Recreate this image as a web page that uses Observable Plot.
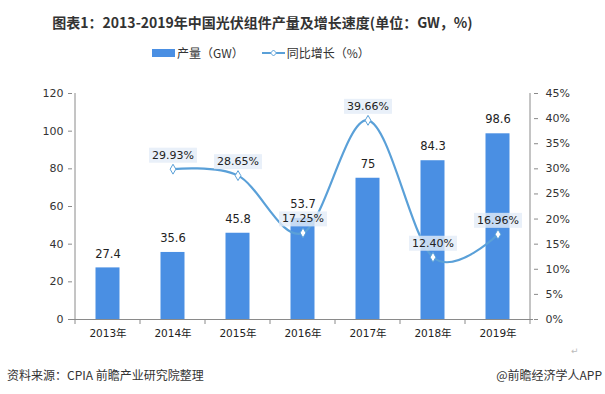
<!DOCTYPE html>
<html><head><meta charset="utf-8">
<script src="https://cdn.jsdelivr.net/npm/d3@7"></script>
<script src="https://cdn.jsdelivr.net/npm/@observablehq/plot@0.6"></script>
<style>
body{margin:0;background:#fff;width:605px;height:394px;position:relative;overflow:hidden;font-family:"Noto Sans CJK SC","DejaVu Sans",sans-serif;color:#333;}
#title{position:absolute;left:0px;top:11px;width:525px;text-align:center;font-weight:bold;font-size:14px;line-height:22px;color:#333;white-space:nowrap;}
#legend{position:absolute;top:44px;left:152px;font-size:12px;line-height:18px;color:#333;white-space:nowrap;display:flex;align-items:center;}
#legend .sw{display:inline-block;width:23px;height:8px;background:#4a8fe3;margin-right:2px;}
#legend svg{margin-left:18px;margin-right:2px;}
#chart{position:absolute;left:0;top:75px;width:605px;height:270px;}
#chart svg{position:absolute;left:0;top:0;}
#src{position:absolute;left:7px;top:366px;font-size:12px;line-height:18px;color:#333;white-space:nowrap;}
#app{position:absolute;right:3px;top:366px;font-size:12px;line-height:18px;color:#333;white-space:nowrap;}
#mark{position:absolute;left:571px;top:344px;font-size:9px;color:#bbb;}
</style></head>
<body>
<div id="title">图表1：2013-2019年中国光伏组件产量及增长速度(单位：GW，%)</div>
<div id="legend"><span class="sw"></span><span>产量（GW）</span><svg width="23" height="10"><line x1="0" y1="5" x2="23" y2="5" stroke="#5aa0d8" stroke-width="2"/><path d="M11.5 2 L14.5 5 L11.5 8 L8.5 5 Z" fill="#fff" stroke="#5aa0d8"/></svg><span>同比增长（%）</span></div>
<div id="chart"></div>
<div id="src">资料来源：CPIA 前瞻产业研究院整理</div>
<div id="app">@前瞻经济学人APP</div>
<div id="mark">↵</div>
<script>
const years = ["2013年","2014年","2015年","2016年","2017年","2018年","2019年"];
const output = [27.4,35.6,45.8,53.7,75,84.3,98.6];
const growthYears = ["2014年","2015年","2016年","2017年","2018年","2019年"];
const growth = [29.93,28.65,17.25,39.66,12.40,16.96];
const leftTicks = [0,20,40,60,80,100,120];
const rightTicks = [0,5,10,15,20,25,30,35,40,45];

const W = 605, H = 270;
const M = {marginTop:18, marginRight:72, marginBottom:26, marginLeft:72};
const font = {fontFamily:'"DejaVu Sans","Noto Sans CJK SC",sans-serif', fontSize:"10.5px", color:"#333", background:"transparent"};
const barColor = "#4a8fe3", lineColor = "#5aa0d8", axisColor = "#8a8a8a";

const barData = years.map((y,i)=>({year:y, value:output[i]}));
const lineData = growthYears.map((y,i)=>({year:y, value:growth[i]}));

const p1 = Plot.plot({
  width:W, height:H, ...M,
  style:font,
  x:{type:"band", domain:years, padding:0, axis:null},
  y:{domain:[0,120], axis:null},
  marks:[
    Plot.barY(barData,{x:"year", y:"value", fill:barColor, insetLeft:20.5, insetRight:20.5}),
    Plot.text(barData,{x:"year", y:"value", text:d=>String(d.value), dy:-14, fontSize:11.5, fill:"#222"}),
    Plot.axisY(leftTicks,{anchor:"left", tickSize:4, tickPadding:5, label:null, stroke:axisColor, fill:"#333", fontSize:11}),
    Plot.axisX({tickSize:0, tickPadding:10, label:null, fill:"#222"}),
    Plot.ruleY([0],{stroke:axisColor})
  ]
});

const p2 = Plot.plot({
  width:W, height:H, ...M,
  style:font,
  x:{type:"band", domain:years, padding:0, axis:null},
  y:{domain:[0,45], axis:null},
  marks:[
    Plot.line(lineData,{x:"year", y:"value", curve:"cardinal", stroke:lineColor, strokeWidth:2.2}),
    Plot.dot(lineData,{x:"year", y:"value", symbol:"diamond", r:3, stroke:lineColor, fill:"#fff", strokeWidth:1}),
    Plot.text(lineData,{x:"year", y:"value", text:d=>d.value.toFixed(2)+"%", dy:-14, fontSize:11, fill:"#222"}),
    Plot.axisY(rightTicks,{anchor:"right", tickSize:4, tickPadding:8, label:null, tickFormat:d=>d+"%", stroke:axisColor, fill:"#333", fontSize:11})
  ]
});

const chart = document.getElementById("chart");
chart.appendChild(p1);
chart.appendChild(p2);

// axis lines and category separator ticks, from the scales
const xs = p1.scale("x"), ys = p1.scale("y");
const x0 = xs.apply(years[0]), x1 = xs.apply(years[years.length-1]) + xs.bandwidth;
const yb = ys.apply(0), yt = ys.apply(120);
const g = d3.select(p1).append("g").attr("stroke", axisColor);
g.append("line").attr("x1",x0).attr("x2",x0).attr("y1",yt).attr("y2",yb);
g.append("line").attr("x1",x1).attr("x2",x1).attr("y1",yt).attr("y2",yb);
years.forEach(y=>{ const xx = xs.apply(y); g.append("line").attr("x1",xx).attr("x2",xx).attr("y1",yb).attr("y2",yb+5); });
g.append("line").attr("x1",x1).attr("x2",x1).attr("y1",yb).attr("y2",yb+5);

// label backgrounds behind the growth labels
const labelSet = new Set(growth.map(v=>v.toFixed(2)+"%"));
const labelNodes = Array.from(p2.querySelectorAll("text")).filter(t => labelSet.has(t.textContent));
labelNodes.forEach(node => {
  const b = node.getBBox();
  const r = document.createElementNS("http://www.w3.org/2000/svg","rect");
  r.setAttribute("x", b.x-3); r.setAttribute("y", b.y-1);
  r.setAttribute("width", b.width+6); r.setAttribute("height", b.height+2);
  if (node.getAttribute("transform")) r.setAttribute("transform", node.getAttribute("transform"));
  r.setAttribute("fill", "#e3ecf7"); r.setAttribute("fill-opacity", "0.8");
  node.parentNode.insertBefore(r, node);
});
</script>
</body></html>
